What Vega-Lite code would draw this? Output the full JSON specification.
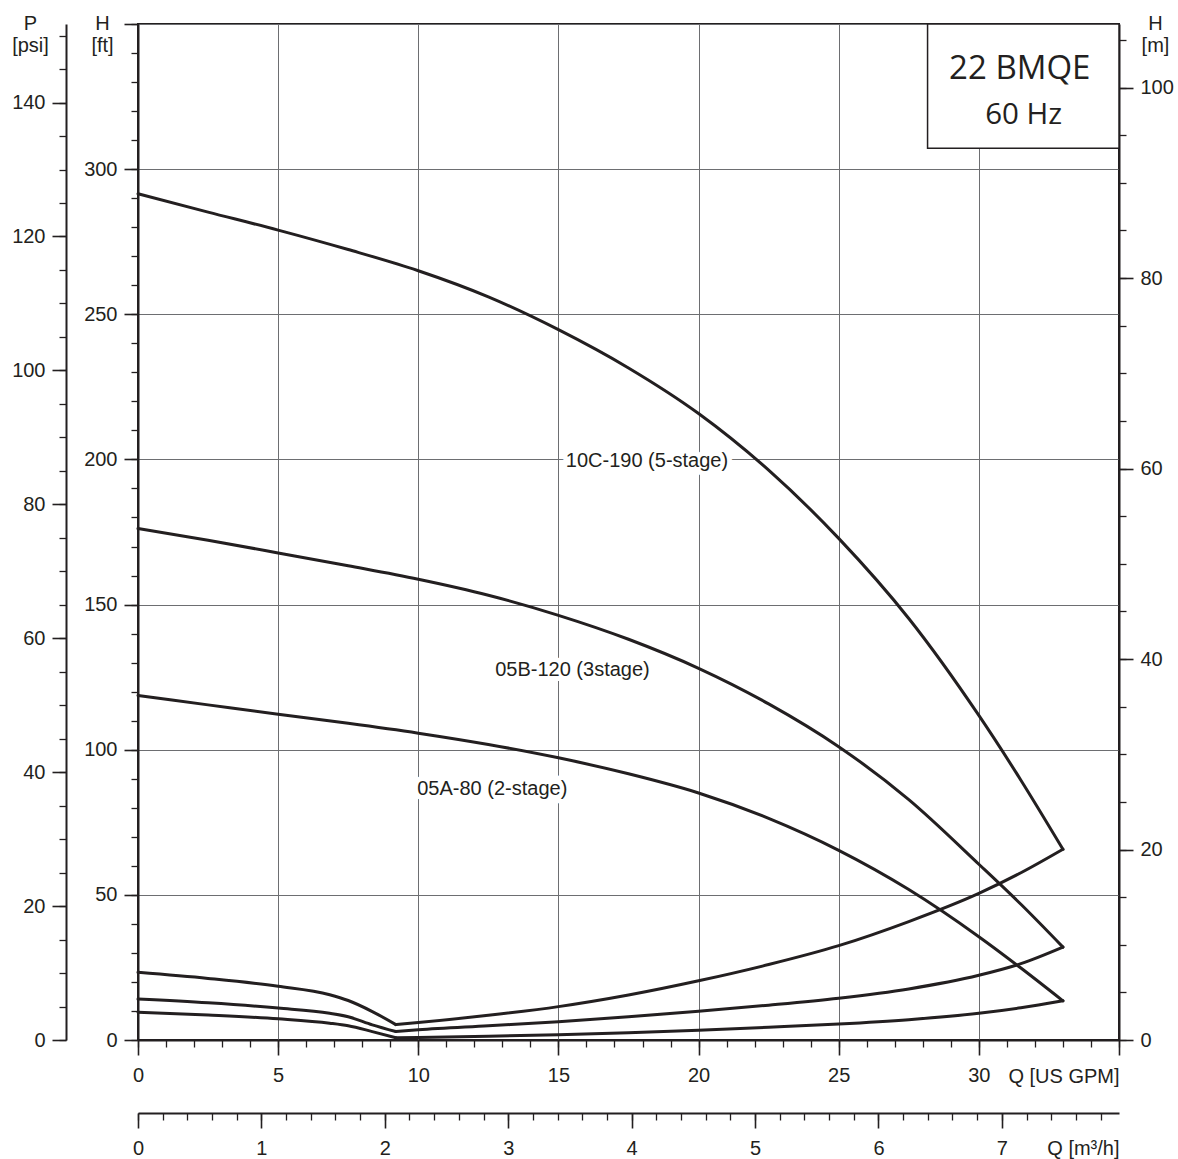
{
  "$schema": "https://vega.github.io/schema/vega-lite/v6.json",
  "width": 981,
  "height": 1016,
  "autosize": {"type": "none"},
  "padding": {"left": 138, "top": 24, "right": 59, "bottom": 119},
  "background": "white",
  "config": {
    "view": {"stroke": "#231f20", "strokeWidth": 2},
    "font": "Liberation Sans",
    "axis": {
      "domainColor": "#231f20", "domainWidth": 2,
      "tickColor": "#231f20", "tickWidth": 1.6,
      "labelColor": "#231f20", "labelFont": "Liberation Sans", "labelFontSize": 20,
      "titleColor": "#231f20", "titleFont": "Liberation Sans", "titleFontSize": 20, "titleFontWeight": "normal",
      "gridColor": "#6d6e71", "gridWidth": 1, "gridOpacity": 1,
      "labelOverlap": false, "labelFlush": false, "labelBound": false
    }
  },
  "datasets": {
    "curves": [
      {"pump": "10C-190", "part": "head", "q": 0, "h": 291.5},
      {"pump": "10C-190", "part": "head", "q": 2.5, "h": 285.2},
      {"pump": "10C-190", "part": "head", "q": 5, "h": 279.0},
      {"pump": "10C-190", "part": "head", "q": 7.5, "h": 272.3},
      {"pump": "10C-190", "part": "head", "q": 10, "h": 265.0},
      {"pump": "10C-190", "part": "head", "q": 12.5, "h": 256.0},
      {"pump": "10C-190", "part": "head", "q": 15, "h": 244.7},
      {"pump": "10C-190", "part": "head", "q": 17.5, "h": 231.5},
      {"pump": "10C-190", "part": "head", "q": 20, "h": 215.8},
      {"pump": "10C-190", "part": "head", "q": 22.5, "h": 196.3},
      {"pump": "10C-190", "part": "head", "q": 25, "h": 172.8},
      {"pump": "10C-190", "part": "head", "q": 27.5, "h": 145.2},
      {"pump": "10C-190", "part": "head", "q": 30, "h": 111.8},
      {"pump": "10C-190", "part": "head", "q": 31.5, "h": 89.5},
      {"pump": "10C-190", "part": "head", "q": 33, "h": 65.7},
      {"pump": "05B-120", "part": "head", "q": 0, "h": 176.2},
      {"pump": "05B-120", "part": "head", "q": 2.5, "h": 172.15},
      {"pump": "05B-120", "part": "head", "q": 5, "h": 167.8},
      {"pump": "05B-120", "part": "head", "q": 7.5, "h": 163.35},
      {"pump": "05B-120", "part": "head", "q": 10, "h": 158.7},
      {"pump": "05B-120", "part": "head", "q": 12.5, "h": 153.2},
      {"pump": "05B-120", "part": "head", "q": 15, "h": 146.3},
      {"pump": "05B-120", "part": "head", "q": 17.5, "h": 138.05},
      {"pump": "05B-120", "part": "head", "q": 20, "h": 128.05},
      {"pump": "05B-120", "part": "head", "q": 22.5, "h": 115.8},
      {"pump": "05B-120", "part": "head", "q": 25, "h": 101.05},
      {"pump": "05B-120", "part": "head", "q": 27.5, "h": 82.8},
      {"pump": "05B-120", "part": "head", "q": 30, "h": 60.55},
      {"pump": "05B-120", "part": "head", "q": 31.5, "h": 46.75},
      {"pump": "05B-120", "part": "head", "q": 33, "h": 32.0},
      {"pump": "05A-80", "part": "head", "q": 0, "h": 118.7},
      {"pump": "05A-80", "part": "head", "q": 2.5, "h": 115.45},
      {"pump": "05A-80", "part": "head", "q": 5, "h": 112.2},
      {"pump": "05A-80", "part": "head", "q": 7.5, "h": 109.1},
      {"pump": "05A-80", "part": "head", "q": 10, "h": 105.7},
      {"pump": "05A-80", "part": "head", "q": 12.5, "h": 101.8},
      {"pump": "05A-80", "part": "head", "q": 15, "h": 97.2},
      {"pump": "05A-80", "part": "head", "q": 17.5, "h": 91.7},
      {"pump": "05A-80", "part": "head", "q": 20, "h": 85.1},
      {"pump": "05A-80", "part": "head", "q": 22.5, "h": 76.35},
      {"pump": "05A-80", "part": "head", "q": 25, "h": 65.35},
      {"pump": "05A-80", "part": "head", "q": 27.5, "h": 51.85},
      {"pump": "05A-80", "part": "head", "q": 30, "h": 35.6},
      {"pump": "05A-80", "part": "head", "q": 31.5, "h": 24.8},
      {"pump": "05A-80", "part": "head", "q": 33, "h": 13.5},
      {"pump": "10C-190", "part": "lowA", "q": 0, "h": 23.3},
      {"pump": "10C-190", "part": "lowA", "q": 2.5, "h": 21.2},
      {"pump": "10C-190", "part": "lowA", "q": 5, "h": 18.5},
      {"pump": "10C-190", "part": "lowA", "q": 6.84, "h": 15.6},
      {"pump": "10C-190", "part": "lowA", "q": 7.5, "h": 13.6},
      {"pump": "10C-190", "part": "lowA", "q": 8.36, "h": 9.8},
      {"pump": "10C-190", "part": "lowA", "q": 9.2, "h": 5.3},
      {"pump": "10C-190", "part": "lowB", "q": 9.2, "h": 5.3},
      {"pump": "10C-190", "part": "lowB", "q": 10, "h": 6.0},
      {"pump": "10C-190", "part": "lowB", "q": 12.5, "h": 8.5},
      {"pump": "10C-190", "part": "lowB", "q": 15, "h": 11.5},
      {"pump": "10C-190", "part": "lowB", "q": 17.5, "h": 15.5},
      {"pump": "10C-190", "part": "lowB", "q": 20, "h": 20.4},
      {"pump": "10C-190", "part": "lowB", "q": 22.5, "h": 26.0},
      {"pump": "10C-190", "part": "lowB", "q": 25, "h": 32.5},
      {"pump": "10C-190", "part": "lowB", "q": 27.5, "h": 40.8},
      {"pump": "10C-190", "part": "lowB", "q": 30, "h": 50.5},
      {"pump": "10C-190", "part": "lowB", "q": 31.5, "h": 57.6},
      {"pump": "10C-190", "part": "lowB", "q": 33, "h": 65.7},
      {"pump": "05B-120", "part": "lowA", "q": 0, "h": 14.1},
      {"pump": "05B-120", "part": "lowA", "q": 2.5, "h": 12.8},
      {"pump": "05B-120", "part": "lowA", "q": 5, "h": 11.0},
      {"pump": "05B-120", "part": "lowA", "q": 6.84, "h": 9.2},
      {"pump": "05B-120", "part": "lowA", "q": 7.5, "h": 8.0},
      {"pump": "05B-120", "part": "lowA", "q": 8.36, "h": 5.2},
      {"pump": "05B-120", "part": "lowA", "q": 9.2, "h": 2.9},
      {"pump": "05B-120", "part": "lowB", "q": 9.2, "h": 2.9},
      {"pump": "05B-120", "part": "lowB", "q": 10, "h": 3.5},
      {"pump": "05B-120", "part": "lowB", "q": 12.5, "h": 4.9},
      {"pump": "05B-120", "part": "lowB", "q": 15, "h": 6.3},
      {"pump": "05B-120", "part": "lowB", "q": 17.5, "h": 8.0},
      {"pump": "05B-120", "part": "lowB", "q": 20, "h": 9.9},
      {"pump": "05B-120", "part": "lowB", "q": 22.5, "h": 12.0},
      {"pump": "05B-120", "part": "lowB", "q": 25, "h": 14.4},
      {"pump": "05B-120", "part": "lowB", "q": 27.5, "h": 17.6},
      {"pump": "05B-120", "part": "lowB", "q": 30, "h": 22.3},
      {"pump": "05B-120", "part": "lowB", "q": 31.5, "h": 26.3},
      {"pump": "05B-120", "part": "lowB", "q": 33, "h": 32.0},
      {"pump": "05A-80", "part": "lowA", "q": 0, "h": 9.6},
      {"pump": "05A-80", "part": "lowA", "q": 2.5, "h": 8.6},
      {"pump": "05A-80", "part": "lowA", "q": 5, "h": 7.3},
      {"pump": "05A-80", "part": "lowA", "q": 6.84, "h": 5.8},
      {"pump": "05A-80", "part": "lowA", "q": 7.5, "h": 4.9},
      {"pump": "05A-80", "part": "lowA", "q": 8.36, "h": 2.9},
      {"pump": "05A-80", "part": "lowA", "q": 9.2, "h": 0.8},
      {"pump": "05A-80", "part": "lowB", "q": 9.2, "h": 0.8},
      {"pump": "05A-80", "part": "lowB", "q": 10, "h": 0.9},
      {"pump": "05A-80", "part": "lowB", "q": 12.5, "h": 1.3},
      {"pump": "05A-80", "part": "lowB", "q": 15, "h": 1.8},
      {"pump": "05A-80", "part": "lowB", "q": 17.5, "h": 2.5},
      {"pump": "05A-80", "part": "lowB", "q": 20, "h": 3.4},
      {"pump": "05A-80", "part": "lowB", "q": 22.5, "h": 4.4},
      {"pump": "05A-80", "part": "lowB", "q": 25, "h": 5.5},
      {"pump": "05A-80", "part": "lowB", "q": 27.5, "h": 7.0},
      {"pump": "05A-80", "part": "lowB", "q": 30, "h": 9.2},
      {"pump": "05A-80", "part": "lowB", "q": 31.5, "h": 11.1},
      {"pump": "05A-80", "part": "lowB", "q": 33, "h": 13.5}
    ],
    "labels": [
      {"text": "10C-190 (5-stage)", "q": 18.16, "h": 199.6},
      {"text": "05B-120 (3stage)", "q": 15.5, "h": 127.3},
      {"text": "05A-80 (2-stage)", "q": 12.64, "h": 86.3}
    ],
    "box": [
      {"q0": 28.17, "q1": 35, "h0": 307.2, "h1": 350}
    ],
    "boxtext": [
      {"text": "22 BMQE", "q": 31.46, "h": 334.5},
      {"text": "60 Hz", "q": 31.6, "h": 318.6}
    ]
  },
  "layer": [
    {
      "layer": [
        {
          "data": {"name": "box"},
          "mark": {"type": "rect", "fill": "white", "stroke": "#231f20", "strokeWidth": 1.5},
          "encoding": {
            "x": {"field": "q0", "type": "quantitative"},
            "x2": {"field": "q1"},
            "y": {"field": "h0", "type": "quantitative"},
            "y2": {"field": "h1"}
          }
        },
        {
          "data": {"name": "boxtext"},
          "transform": [{"filter": {"field": "text", "equal": "22 BMQE"}}],
          "mark": {"type": "text", "font": "Open Sans", "fontSize": 33, "align": "center", "baseline": "middle", "color": "#231f20"},
          "encoding": {
            "x": {"field": "q", "type": "quantitative"},
            "y": {"field": "h", "type": "quantitative"},
            "text": {"field": "text"}
          }
        },
        {
          "data": {"name": "boxtext"},
          "transform": [{"filter": {"field": "text", "equal": "60 Hz"}}],
          "mark": {"type": "text", "font": "Open Sans", "fontSize": 29.5, "align": "center", "baseline": "middle", "color": "#231f20"},
          "encoding": {
            "x": {"field": "q", "type": "quantitative"},
            "y": {"field": "h", "type": "quantitative"},
            "text": {"field": "text"}
          }
        },
        {
          "data": {"name": "labels"},
          "mark": {"type": "text", "fontSize": 20, "align": "center", "baseline": "middle", "stroke": "white", "strokeWidth": 10, "strokeJoin": "round", "fill": "white"},
          "encoding": {
            "x": {"field": "q", "type": "quantitative"},
            "y": {"field": "h", "type": "quantitative"},
            "text": {"field": "text"}
          }
        },
        {
          "data": {"name": "labels"},
          "mark": {"type": "text", "fontSize": 20, "align": "center", "baseline": "middle", "fill": "#231f20"},
          "encoding": {
            "x": {"field": "q", "type": "quantitative"},
            "y": {"field": "h", "type": "quantitative"},
            "text": {"field": "text"}
          }
        },
        {
          "data": {"name": "curves"},
          "mark": {"type": "line", "color": "#231f20", "strokeWidth": 3, "interpolate": "monotone", "strokeCap": "round"},
          "encoding": {
            "x": {"field": "q", "type": "quantitative"},
            "y": {"field": "h", "type": "quantitative"},
            "detail": [{"field": "pump"}, {"field": "part"}]
          }
        }
      ],
      "encoding": {
        "x": {
          "field": "q", "type": "quantitative",
          "scale": {"domain": [0, 35], "nice": false, "zero": false},
          "axis": {
            "orient": "bottom", "values": [0, 5, 10, 15, 20, 25, 30, 35],
            "tickSize": 15, "labelPadding": 10, "grid": true,
            "labelExpr": "datum.value == 35 ? '' : datum.label",
            "title": "Q [US GPM]", "titleX": 981, "titleY": 42, "titleAlign": "right", "titleBaseline": "alphabetic", "titleAngle": 0
          }
        },
        "y": {
          "field": "h", "type": "quantitative",
          "scale": {"domain": [0, 350], "nice": false, "zero": false},
          "axis": {
            "orient": "left", "values": [0, 50, 100, 150, 200, 250, 300, 350],
            "tickSize": 14, "labelPadding": 7, "grid": true,
            "labelExpr": "datum.value == 350 ? '' : datum.label",
            "title": ["H", "[ft]"], "titleX": -36, "titleY": 5, "titleAlign": "center", "titleBaseline": "alphabetic", "titleAngle": 0, "titleLineHeight": 22
          }
        }
      }
    },
    {
      "data": {"name": "curves"},
      "mark": {"type": "point", "opacity": 0},
      "encoding": {
        "x": {
          "field": "q", "type": "quantitative",
          "scale": {"domain": [0, 35], "nice": false, "zero": false},
          "axis": {
            "orient": "bottom", "values": [0,1,2,3,4,5,6,7,8,9,10,11,12,13,14,15,16,17,18,19,20,21,22,23,24,25,26,27,28,29,30,31,32,33,34,35],
            "tickSize": 7, "tickWidth": 1.3, "labels": false, "domain": false, "grid": false, "title": null
          }
        },
        "y": {
          "field": "h", "type": "quantitative",
          "scale": {"domain": [0, 350], "nice": false, "zero": false},
          "axis": {
            "orient": "left", "values": [0,10,20,30,40,50,60,70,80,90,100,110,120,130,140,150,160,170,180,190,200,210,220,230,240,250,260,270,280,290,300,310,320,330,340,350],
            "tickSize": 7, "tickWidth": 1.3, "labels": false, "domain": false, "grid": false, "title": null
          }
        }
      }
    },
    {
      "data": {"name": "curves"},
      "mark": {"type": "point", "opacity": 0},
      "encoding": {
        "x": {
          "field": "q", "type": "quantitative",
          "scale": {"domain": [0, 7.9493], "nice": false, "zero": false},
          "axis": {
            "orient": "bottom", "offset": 73, "values": [0, 1, 2, 3, 4, 5, 6, 7],
            "tickSize": 15, "labelPadding": 10, "grid": false,
            "title": "Q [m³/h]", "titleX": 981, "titleY": 41, "titleAlign": "right", "titleBaseline": "alphabetic", "titleAngle": 0
          }
        },
        "y": {
          "field": "h", "type": "quantitative",
          "scale": {"domain": [0, 151.73], "nice": false, "zero": false},
          "axis": {
            "orient": "left", "offset": 72, "values": [0, 20, 40, 60, 80, 100, 120, 140],
            "tickSize": 14, "labelPadding": 7, "grid": false,
            "title": ["P", "[psi]"], "titleX": -36, "titleY": 5, "titleAlign": "center", "titleBaseline": "alphabetic", "titleAngle": 0, "titleLineHeight": 22
          }
        }
      }
    },
    {
      "data": {"name": "curves"},
      "mark": {"type": "point", "opacity": 0},
      "encoding": {
        "x": {
          "field": "q", "type": "quantitative",
          "scale": {"domain": [0, 7.9493], "nice": false, "zero": false},
          "axis": {
            "orient": "bottom", "offset": 73,
            "values": [0,0.2,0.4,0.6,0.8,1,1.2,1.4,1.6,1.8,2,2.2,2.4,2.6,2.8,3,3.2,3.4,3.6,3.8,4,4.2,4.4,4.6,4.8,5,5.2,5.4,5.6,5.8,6,6.2,6.4,6.6,6.8,7,7.2,7.4,7.6,7.8],
            "tickSize": 7, "tickWidth": 1.3, "labels": false, "domain": false, "grid": false, "title": null
          }
        },
        "y": {
          "field": "h", "type": "quantitative",
          "scale": {"domain": [0, 151.73], "nice": false, "zero": false},
          "axis": {
            "orient": "left", "offset": 72,
            "values": [0,5,10,15,20,25,30,35,40,45,50,55,60,65,70,75,80,85,90,95,100,105,110,115,120,125,130,135,140,145,150],
            "tickSize": 7, "tickWidth": 1.3, "labels": false, "domain": false, "grid": false, "title": null
          }
        }
      }
    },
    {
      "data": {"name": "curves"},
      "mark": {"type": "point", "opacity": 0},
      "encoding": {
        "x": {
          "field": "q", "type": "quantitative",
          "scale": {"domain": [0, 35], "nice": false, "zero": false},
          "axis": null
        },
        "y": {
          "field": "h", "type": "quantitative",
          "scale": {"domain": [0, 106.68], "nice": false, "zero": false},
          "axis": {
            "orient": "right", "values": [0, 20, 40, 60, 80, 100],
            "tickSize": 14, "labelPadding": 7, "grid": false,
            "title": ["H", "[m]"], "titleX": 36, "titleY": 5, "titleAlign": "center", "titleBaseline": "alphabetic", "titleAngle": 0, "titleLineHeight": 22
          }
        }
      }
    },
    {
      "data": {"name": "curves"},
      "mark": {"type": "point", "opacity": 0},
      "encoding": {
        "x": {
          "field": "q", "type": "quantitative",
          "scale": {"domain": [0, 35], "nice": false, "zero": false},
          "axis": null
        },
        "y": {
          "field": "h", "type": "quantitative",
          "scale": {"domain": [0, 106.68], "nice": false, "zero": false},
          "axis": {
            "orient": "right",
            "values": [0,5,10,15,20,25,30,35,40,45,50,55,60,65,70,75,80,85,90,95,100,105],
            "tickSize": 7, "tickWidth": 1.3, "labels": false, "domain": false, "grid": false, "title": null
          }
        }
      }
    }
  ],
  "resolve": {
    "scale": {"x": "independent", "y": "independent"},
    "axis": {"x": "independent", "y": "independent"}
  }
}
